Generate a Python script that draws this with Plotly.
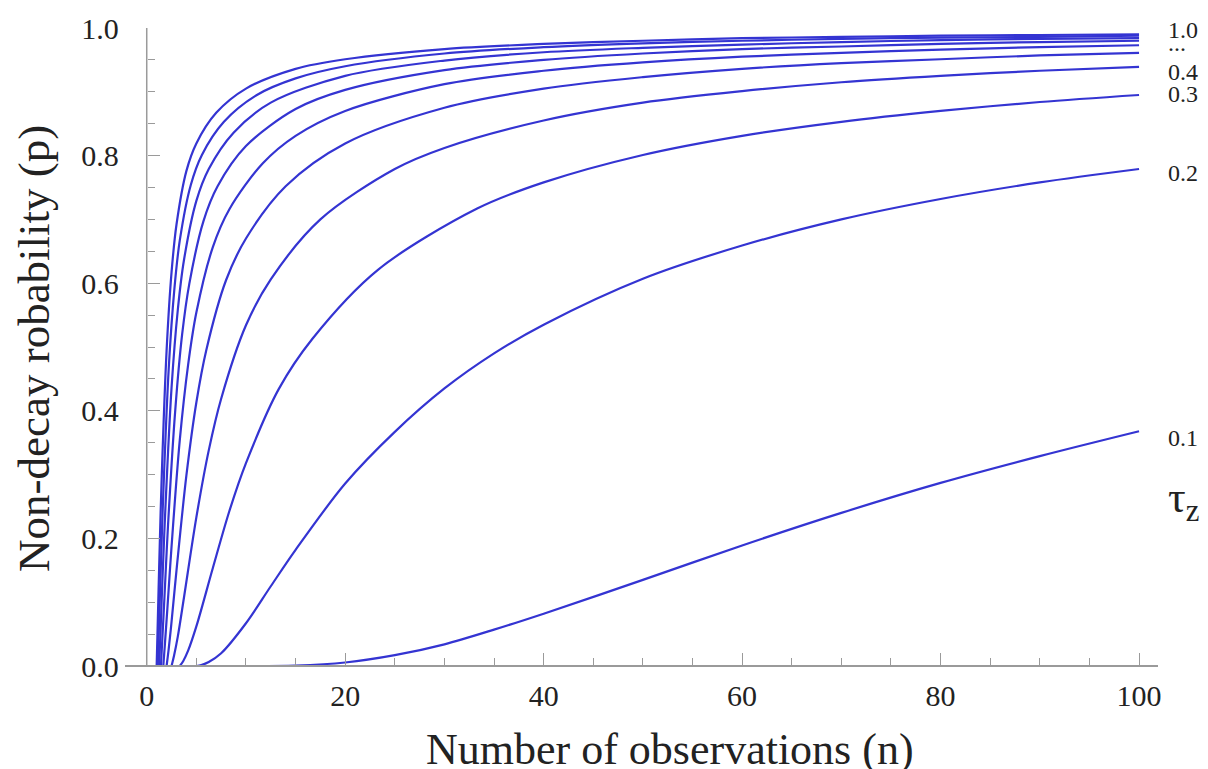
import plotly.graph_objects as go

# ---- data ----
tau_labels = ["1.0", "0.9", "0.8", "0.7", "0.6", "0.5", "0.4", "0.3", "0.2", "0.1"]

n_tau10 = [1, 1.1, 1.25, 1.5, 2, 2.5, 3, 4, 5, 7, 10, 15, 20, 30, 40, 50, 60, 70, 80, 90, 100]
p_tau10 = [0, 0.062, 0.154, 0.292, 0.494, 0.617, 0.692, 0.776, 0.819, 0.867, 0.905, 0.936, 0.951, 0.967, 0.975, 0.980, 0.984, 0.986, 0.988, 0.989, 0.990]

n_tau09 = [1.11, 1.22, 1.39, 1.67, 2.22, 2.78, 3.33, 4.44, 5.56, 7.78, 11.1, 15, 20, 30, 40, 50, 60, 70, 80, 90, 100]
p_tau09 = [0, 0.056, 0.141, 0.271, 0.467, 0.590, 0.667, 0.754, 0.801, 0.853, 0.895, 0.921, 0.940, 0.960, 0.970, 0.976, 0.980, 0.983, 0.985, 0.986, 0.988]

n_tau08 = [1.25, 1.38, 1.56, 1.88, 2.5, 3.13, 3.75, 5, 6.25, 8.75, 12.5, 20, 30, 40, 50, 60, 70, 80, 90, 100]
p_tau08 = [0, 0.050, 0.126, 0.247, 0.436, 0.558, 0.636, 0.729, 0.779, 0.836, 0.883, 0.925, 0.949, 0.962, 0.969, 0.974, 0.978, 0.981, 0.983, 0.984]

n_tau07 = [1.43, 1.57, 1.79, 2.14, 2.86, 3.57, 4.29, 5.71, 7.14, 10, 15, 20, 30, 40, 50, 60, 70, 80, 90, 100]
p_tau07 = [0, 0.042, 0.109, 0.219, 0.398, 0.520, 0.599, 0.697, 0.752, 0.815, 0.873, 0.903, 0.934, 0.950, 0.960, 0.967, 0.971, 0.975, 0.978, 0.980]

n_tau06 = [1.67, 1.83, 2.08, 2.5, 3.33, 4.17, 5, 6.67, 8.33, 11.7, 15, 20, 30, 40, 50, 60, 70, 80, 90, 100]
p_tau06 = [0, 0.034, 0.090, 0.187, 0.354, 0.472, 0.554, 0.657, 0.716, 0.788, 0.831, 0.870, 0.912, 0.933, 0.946, 0.955, 0.961, 0.966, 0.970, 0.973]

n_tau05 = [2, 2.2, 2.5, 3, 4, 5, 6, 8, 10, 14, 20, 30, 40, 50, 60, 70, 80, 90, 100]
p_tau05 = [0, 0.025, 0.069, 0.150, 0.299, 0.413, 0.495, 0.605, 0.670, 0.752, 0.819, 0.875, 0.905, 0.923, 0.936, 0.945, 0.951, 0.957, 0.961]

n_tau04 = [2.5, 2.75, 3.13, 3.75, 5, 6.25, 7.5, 10, 12.5, 17.5, 25, 30, 40, 50, 60, 70, 80, 90, 100]
p_tau04 = [0, 0.016, 0.046, 0.107, 0.233, 0.338, 0.419, 0.534, 0.606, 0.700, 0.779, 0.812, 0.855, 0.883, 0.901, 0.915, 0.925, 0.933, 0.939]

n_tau03 = [3.33, 3.67, 4.17, 5, 6.67, 8.33, 10, 13.3, 16.7, 23.3, 33.3, 40, 50, 60, 70, 80, 90, 100]
p_tau03 = [0, 0.0075, 0.024, 0.062, 0.154, 0.243, 0.318, 0.434, 0.513, 0.621, 0.717, 0.758, 0.801, 0.831, 0.853, 0.870, 0.884, 0.895]

n_tau02 = [5, 5.5, 6.25, 7.5, 10, 12.5, 15, 20, 25, 30, 35, 40, 50, 60, 70, 80, 90, 100]
p_tau02 = [0, 0.0016, 0.0063, 0.020, 0.067, 0.125, 0.182, 0.286, 0.367, 0.435, 0.490, 0.535, 0.607, 0.659, 0.700, 0.732, 0.758, 0.779]

n_tau01 = [10, 15, 20, 25, 30, 35, 40, 50, 60, 70, 80, 90, 100]
p_tau01 = [0, 0.0007, 0.0055, 0.017, 0.034, 0.057, 0.082, 0.135, 0.189, 0.240, 0.287, 0.329, 0.368]

curves = [
    (n_tau10, p_tau10), (n_tau09, p_tau09), (n_tau08, p_tau08), (n_tau07, p_tau07),
    (n_tau06, p_tau06), (n_tau05, p_tau05), (n_tau04, p_tau04), (n_tau03, p_tau03),
    (n_tau02, p_tau02), (n_tau01, p_tau01),
]

# right-hand curve labels: (text, pixel y centre)
end_labels = [("1.0", 30), ("...", 43), ("0.4", 72), ("0.3", 94), ("0.2", 173), ("0.1", 438)]

# ---- geometry ----
W, H = 1208, 769
ML, MR, MT, MB = 125, 50, 28, 99
PW, PH = W - ML - MR, H - MT - MB
X_RANGE = [-2.19, 101.91]
Y_RANGE = [-0.00627, 1.0]

def px_to_paper_x(px):
    return (px - ML) / PW

def px_to_paper_y(py):
    return (H - MB - py) / PH

SERIF = "Liberation Serif, Times New Roman, serif"
LINE_COLOR = "#3434d2"
AXIS_COLOR = "#9a9a9a"
TEXT_COLOR = "#222222"

fig = go.Figure()
for (n, p), lab in zip(curves, tau_labels):
    fig.add_trace(go.Scatter(
        x=n, y=p, mode="lines", name=lab,
        line=dict(color=LINE_COLOR, width=2.2, shape="spline", smoothing=0.9),
        hoverinfo="skip", showlegend=False,
    ))

fig.update_layout(
    width=W, height=H,
    margin=dict(l=ML, r=MR, t=MT, b=MB, pad=0),
    paper_bgcolor="white", plot_bgcolor="white",
    font=dict(family=SERIF, color=TEXT_COLOR),
    showlegend=False,
)

fig.update_xaxes(
    range=X_RANGE, anchor="free", position=(0 - Y_RANGE[0]) / (Y_RANGE[1] - Y_RANGE[0]),
    showline=True, linecolor=AXIS_COLOR, linewidth=1.5,
    showgrid=False, zeroline=False,
    tickmode="linear", tick0=0, dtick=20,
    ticks="inside", ticklen=12, tickwidth=1.2, tickcolor=AXIS_COLOR,
    minor=dict(ticks="inside", dtick=5, tick0=0, ticklen=7, tickwidth=1.2, tickcolor=AXIS_COLOR, showgrid=False),
    tickfont=dict(family=SERIF, size=30, color=TEXT_COLOR),
    ticklabelstandoff=3,
)

fig.update_yaxes(
    range=Y_RANGE, anchor="free", position=px_to_paper_x(146.7),
    showline=False, showgrid=False, zeroline=False,
    tickmode="linear", tick0=0, dtick=0.2, tickformat=".1f",
    ticks="inside", ticklen=12, tickwidth=1.2, tickcolor=AXIS_COLOR,
    minor=dict(ticks="inside", dtick=0.05, tick0=0, ticklen=7, tickwidth=1.2, tickcolor=AXIS_COLOR, showgrid=False),
    tickfont=dict(family=SERIF, size=30, color=TEXT_COLOR),
    ticklabelstandoff=28,
)

# y axis line from 0 to 1 at n = 0
fig.add_shape(type="line", xref="x", yref="y", x0=0, x1=0, y0=0, y1=1,
              line=dict(color=AXIS_COLOR, width=1.5), layer="below")

# axis titles
fig.add_annotation(text="Number of observations (n)", xref="paper", yref="paper",
                   x=px_to_paper_x(670), y=px_to_paper_y(749), xanchor="center", yanchor="middle",
                   showarrow=False, font=dict(family=SERIF, size=44, color=TEXT_COLOR))
fig.add_annotation(text="Non-decay robability (p)", xref="paper", yref="paper",
                   x=px_to_paper_x(34), y=px_to_paper_y(349), xanchor="center", yanchor="middle",
                   textangle=-90, showarrow=False, font=dict(family=SERIF, size=45, color=TEXT_COLOR))

# curve labels on the right
for text, py in end_labels:
    fig.add_annotation(text=text, xref="paper", yref="paper",
                       x=px_to_paper_x(1166), y=px_to_paper_y(py), xanchor="left", yanchor="middle",
                       showarrow=False, font=dict(family=SERIF, size=24, color=TEXT_COLOR))
fig.add_annotation(text="τ<sub>z</sub>", xref="paper", yref="paper",
                   x=px_to_paper_x(1166), y=px_to_paper_y(500), xanchor="left", yanchor="middle",
                   showarrow=False, font=dict(family=SERIF, size=44, color=TEXT_COLOR))

fig.write_html("out.html", config={"displayModeBar": False},
               post_script="document.body.style.margin='0';")
